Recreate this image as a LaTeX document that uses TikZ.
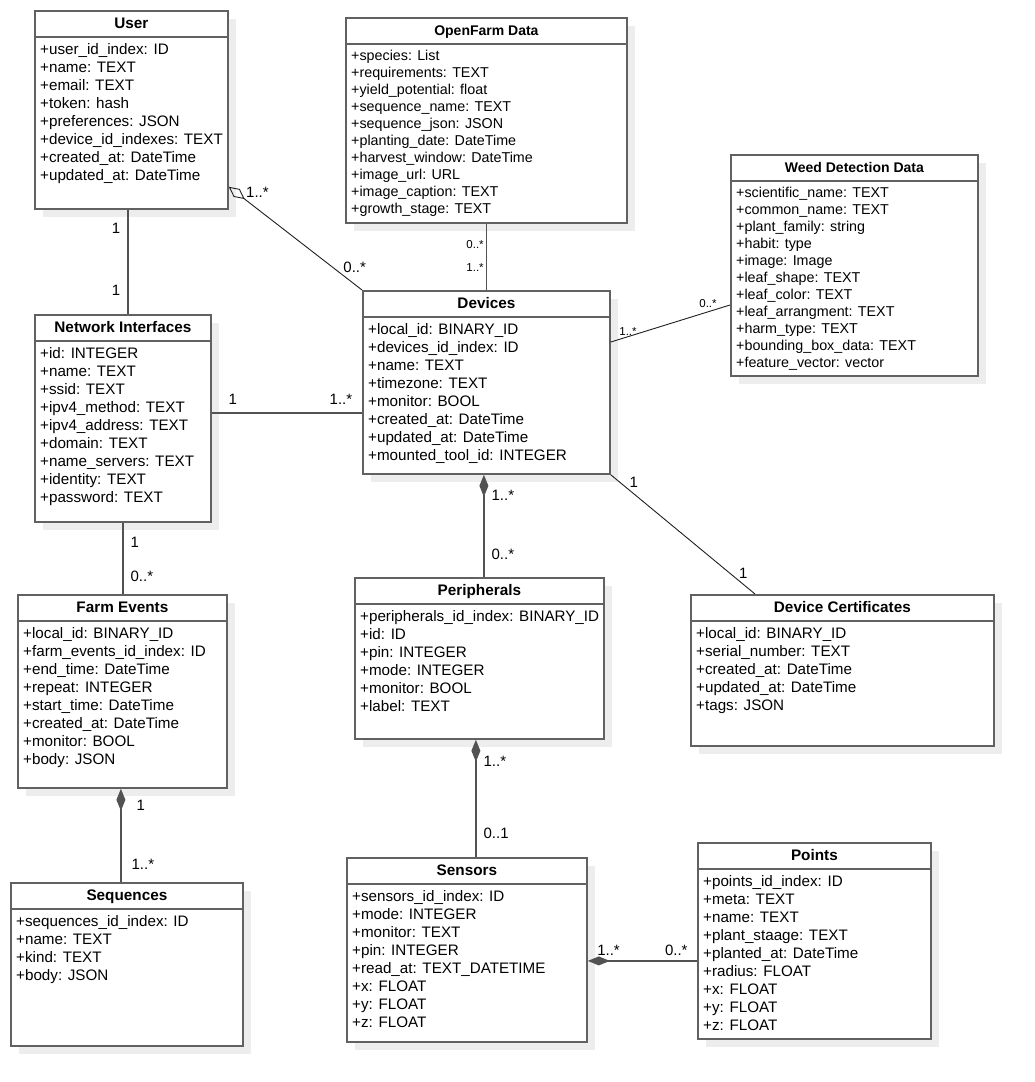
\documentclass[tikz,border=0pt]{standalone}
\usepackage{fontspec}
\setmainfont{Liberation Sans}
\usetikzlibrary{arrows.meta,positioning,shadows}

% one class box: [size]{name}{corner}{width}{height}{title}{attributes}
\newcommand{\umlclass}[7][big]{%
  \node[classbox, minimum width=#4, minimum height=#5] (#2) at #3 {};
  \draw[classrule] ([yshift=-27pt]#2.north west) -- ([yshift=-27pt]#2.north east);
  \node[#1title, anchor=base] (#2-title) at ([yshift=-18pt]#2.north) {#6};
  \node[#1attrs, below right=33pt and 6pt of #2.north west] (#2-attrs) {#7};
}

\begin{document}
\begin{tikzpicture}[
  x=1pt, y=-1pt,
  classbox/.style={rectangle, draw=black!62, line width=1.8pt, fill=white, anchor=north west,
    inner sep=0pt, drop shadow={shadow xshift=8pt, shadow yshift=-8pt, fill=black!7, opacity=1}},
  classrule/.style={draw=black!62, line width=1.8pt},
  bigtitle/.style={font=\fontsize{15.3}{18}\selectfont\bfseries, inner sep=0pt},
  bigattrs/.style={font=\fontsize{15.2}{18}\selectfont, align=left, inner sep=0pt},
  smalltitle/.style={font=\fontsize{14}{17}\selectfont\bfseries, inner sep=0pt},
  smallattrs/.style={font=\fontsize{14.3}{17}\selectfont, align=left, inner sep=0pt},
  assoc/.style={draw=black!68, line width=1.4pt},
  oblique/.style={draw=black!88, line width=0.9pt},
  compose/.style={assoc, {Diamond[length=22pt, width=9pt]}-},
  aggregate/.style={oblique, {Diamond[open, length=20pt, width=10pt]}-},
  mult/.style={font=\fontsize{15}{18}\selectfont, inner sep=1pt},
  smallmult/.style={font=\fontsize{11.5}{14}\selectfont, inner sep=1pt},
]
\useasboundingbox (0,0) rectangle (1035,1082);

\umlclass{user}{(34,10)}{193pt}{198pt}{User}{%
  +user\_id\_index: ID\\+name: TEXT\\+email: TEXT\\+token: hash\\+preferences: JSON\\
  +device\_id\_indexes: TEXT\\+created\_at: DateTime\\+updated\_at: DateTime}
\umlclass[small]{openfarm}{(345,17)}{281pt}{205pt}{OpenFarm Data}{%
  +species: List\\+requirements: TEXT\\+yield\_potential: float\\+sequence\_name: TEXT\\
  +sequence\_json: JSON\\+planting\_date: DateTime\\+harvest\_window: DateTime\\
  +image\_url: URL\\+image\_caption: TEXT\\+growth\_stage: TEXT}
\umlclass[small]{weed}{(730,154)}{247pt}{221pt}{Weed Detection Data}{%
  +scientific\_name: TEXT\\+common\_name: TEXT\\+plant\_family: string\\+habit: type\\
  +image: Image\\+leaf\_shape: TEXT\\+leaf\_color: TEXT\\+leaf\_arrangment: TEXT\\
  +harm\_type: TEXT\\+bounding\_box\_data: TEXT\\+feature\_vector: vector}
\umlclass{devices}{(362,290)}{247pt}{183pt}{Devices}{%
  +local\_id: BINARY\_ID\\+devices\_id\_index: ID\\+name: TEXT\\+timezone: TEXT\\
  +monitor: BOOL\\+created\_at: DateTime\\+updated\_at: DateTime\\+mounted\_tool\_id: INTEGER}
\umlclass{netif}{(34,314)}{176pt}{207pt}{Network Interfaces}{%
  +id: INTEGER\\+name: TEXT\\+ssid: TEXT\\+ipv4\_method: TEXT\\+ipv4\_address: TEXT\\
  +domain: TEXT\\+name\_servers: TEXT\\+identity: TEXT\\+password: TEXT}
\umlclass{farm}{(17,594)}{209pt}{193pt}{Farm Events}{%
  +local\_id: BINARY\_ID\\+farm\_events\_id\_index: ID\\+end\_time: DateTime\\
  +repeat: INTEGER\\+start\_time: DateTime\\+created\_at: DateTime\\+monitor: BOOL\\+body: JSON}
\umlclass{periph}{(354,577)}{249pt}{161pt}{Peripherals}{%
  +peripherals\_id\_index: BINARY\_ID\\+id: ID\\+pin: INTEGER\\+mode: INTEGER\\
  +monitor: BOOL\\+label: TEXT}
\umlclass{certs}{(690,594)}{303pt}{151pt}{Device Certificates}{%
  +local\_id: BINARY\_ID\\+serial\_number: TEXT\\+created\_at: DateTime\\
  +updated\_at: DateTime\\+tags: JSON}
\umlclass{seq}{(10,882)}{232pt}{163pt}{Sequences}{%
  +sequences\_id\_index: ID\\+name: TEXT\\+kind: TEXT\\+body: JSON}
\umlclass{sensors}{(346,857)}{240pt}{184pt}{Sensors}{%
  +sensors\_id\_index: ID\\+mode: INTEGER\\+monitor: TEXT\\+pin: INTEGER\\
  +read\_at: TEXT\_DATETIME\\+x: FLOAT\\+y: FLOAT\\+z: FLOAT}
\umlclass{points}{(697,842)}{233pt}{196pt}{Points}{%
  +points\_id\_index: ID\\+meta: TEXT\\+name: TEXT\\+plant\_staage: TEXT\\
  +planted\_at: DateTime\\+radius: FLOAT\\+x: FLOAT\\+y: FLOAT\\+z: FLOAT}

% associations
\draw[assoc] ([xshift=94pt]user.south west) -- ([xshift=94pt]netif.north west)
  node[mult, pos=0.18, left=6pt] {1} node[mult, pos=0.77, left=6pt] {1};
\draw[aggregate] ([yshift=23pt]user.south east) -- (devices.north west)
  node[mult, pos=0.12, anchor=south west] {1..*} node[mult, pos=0.85, anchor=south west] {0..*};
\draw[assoc] (openfarm.south) -- (openfarm.south |- devices.north)
  node[smallmult, pos=0.31, left=1pt] {0..*} node[smallmult, pos=0.66, left=1pt] {1..*};
\draw[oblique] ([yshift=-52pt]devices.north east) -- ([yshift=-151pt]weed.north west)
  node[smallmult, pos=0.06, anchor=south west, yshift=3pt] {1..*}
  node[smallmult, pos=0.9, anchor=south east] {0..*};
\draw[assoc] ([yshift=5.5pt]netif.east) coordinate (nd) -- (nd -| devices.west)
  node[mult, pos=0.14, above=7pt] {1} node[mult, pos=0.86, above=7pt] {1..*};
\draw[compose] ([xshift=-2.5pt]devices.south) coordinate (dp) -- (dp |- periph.north)
  node[mult, pos=0.2, right=6pt] {1..*} node[mult, pos=0.78, right=6pt] {0..*};
\draw[oblique] (devices.south east) -- ([xshift=65pt]certs.north west)
  node[mult, pos=0.12, anchor=south west] {1} node[mult, pos=0.88, anchor=south west] {1};
\draw[assoc] (netif.south) -- (netif.south |- farm.north)
  node[mult, pos=0.27, right=6pt] {1} node[mult, pos=0.75, right=6pt] {0..*};
\draw[compose] ([xshift=-1.5pt]farm.south) coordinate (fs) -- (fs |- seq.north)
  node[mult, pos=0.18, right=14pt] {1} node[mult, pos=0.81, right=9pt] {1..*};
\draw[compose] ([xshift=-3.5pt]periph.south) coordinate (ps) -- (ps |- sensors.north)
  node[mult, pos=0.18, right=6pt] {1..*} node[mult, pos=0.8, right=6pt] {0..1};
\draw[compose] ([yshift=-11pt]sensors.east) coordinate (sp) -- (sp -| points.west)
  node[mult, pos=0.19, above=4pt] {1..*} node[mult, pos=0.81, above=4pt] {0..*};
\end{tikzpicture}
\end{document}
